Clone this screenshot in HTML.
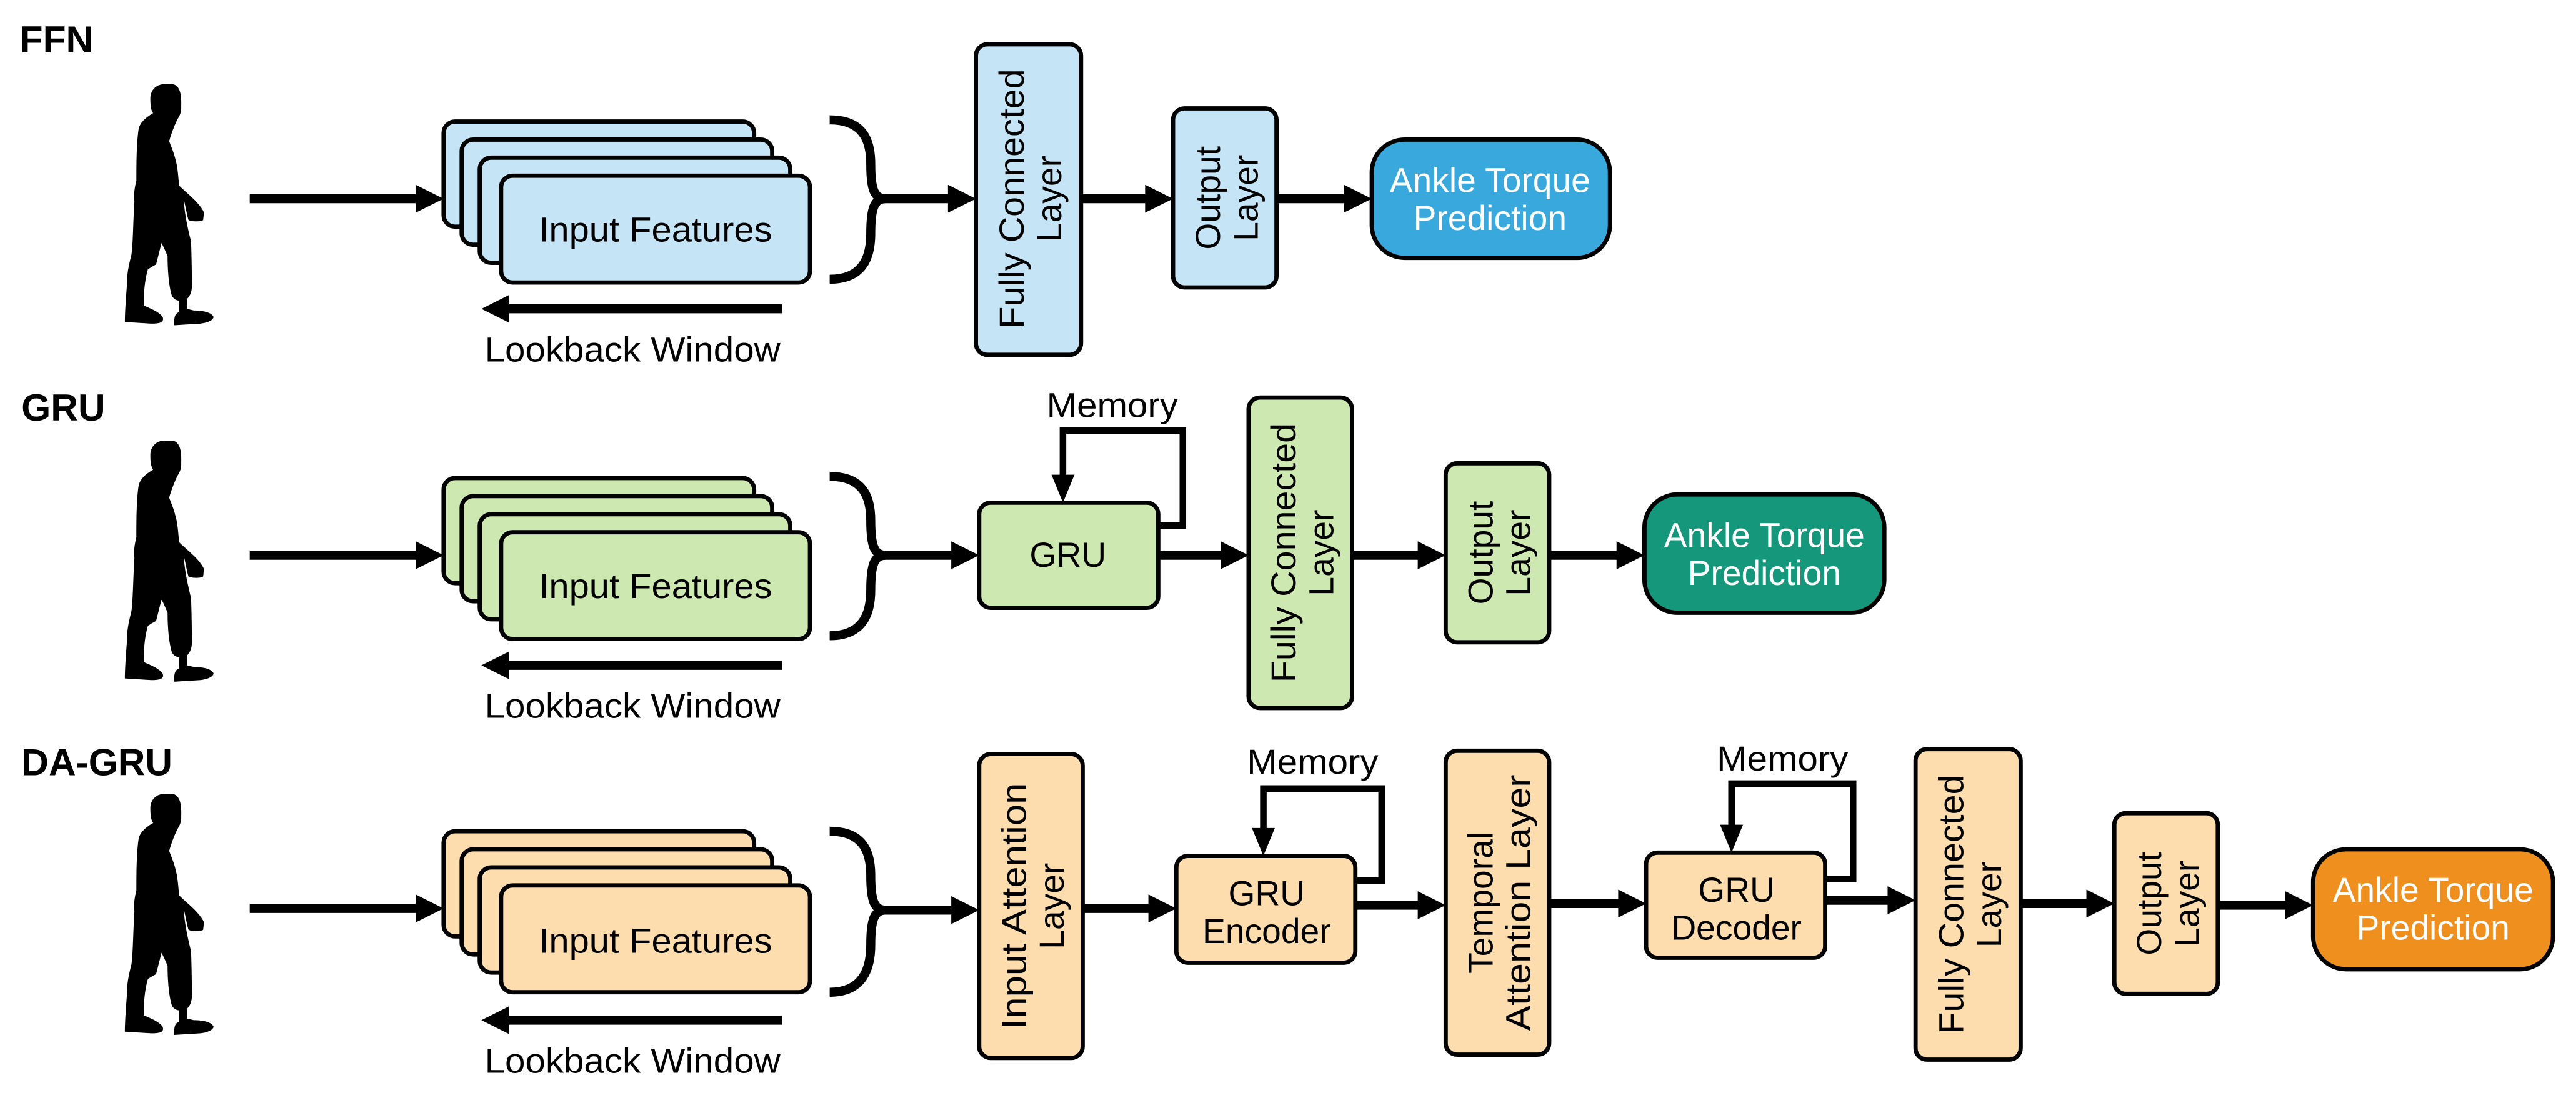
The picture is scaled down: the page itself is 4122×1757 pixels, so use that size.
<!DOCTYPE html>
<html><head><meta charset="utf-8"><style>
html,body{margin:0;padding:0;background:#fff;}
svg{display:block;}
text{font-family:"Liberation Sans",Arial,sans-serif;}
</style></head><body>
<svg width="4122" height="1757" viewBox="0 0 1568 668.4" xmlns="http://www.w3.org/2000/svg">
<defs>
<path id="person" d="M100.8,268.2 C95,268 91.5,272 91.5,277 C91.5,282 92,284 93.2,285.9 C88,289 85,292 84.3,296 C83,305 83,318 83,327 C81.5,333 81.5,336 81.8,339.7 C81,352 81,365 80,372 C78,380 77.3,384 77.3,390 C76.5,400 76,408 76,413 L92,414 C98,414 100,413 99,410 C97,407 92,405 87.5,403 C87.5,395 88,388 90,381 C93,379 95,378 95,378 L98.3,365 C100,368 102,373 102,373 C102,383 103,392 104.6,397 C106,400 109,400 109,400 L109,407 C106,408 106,411 106,415 L122,414 C130,413 130,410 130,410 C129,407 123,406 118,406 L113.8,405 L113.8,399 C116,397 116.8,394 116.8,391 C116.8,380 116.5,370 116.3,364 C114,355 112,345 112,339 C113,343 114,349 114.8,351 C117,352 122,352 123.6,351 C124,349 124,347 124,346 C121,340 114,335 109,330 C108.5,324 108,318 107,315 C106,310 104,306 103,303 C104,299 107,291 109,288 C110.5,285 110.3,283 110.3,281.5 C110.5,276 110,270 106,268.5 C104,268.1 102,268.2 100.8,268.2 Z"/>
</defs>

<!-- Row labels -->
<text x="12" y="32" font-size="23" font-weight="bold">FFN</text>
<text x="13" y="256" font-size="23" font-weight="bold">GRU</text>
<text x="13" y="472" font-size="23" font-weight="bold">DA-GRU</text>

<!-- Persons -->
<use href="#person" transform="translate(0,-217)"/>
<use href="#person"/>
<use href="#person" transform="translate(0,215)"/>

<g id="rows" stroke="#000">
<!-- ROW 1 -->
<g fill="#C5E5F6" stroke-width="2.6">
<rect x="270" y="74" width="189" height="64" rx="7"/>
<rect x="281" y="85" width="189" height="64" rx="7"/>
<rect x="292" y="96" width="189" height="64" rx="7"/>
<rect x="305" y="107" width="188" height="65" rx="7"/>
<rect x="594" y="27" width="64" height="189" rx="7"/>
<rect x="714" y="66" width="63" height="109" rx="7"/>
</g>
<rect x="835" y="85" width="145" height="72" rx="20" fill="#38A8DD" stroke-width="2.6"/>

<!-- ROW 2 -->
<g fill="#CDE8B0" stroke-width="2.6">
<rect x="270" y="291" width="189" height="64" rx="7"/>
<rect x="281" y="302" width="189" height="64" rx="7"/>
<rect x="292" y="313" width="189" height="64" rx="7"/>
<rect x="305" y="324" width="188" height="65" rx="7"/>
<rect x="596" y="306" width="109" height="64" rx="7"/>
<rect x="760" y="242" width="63" height="189" rx="7"/>
<rect x="880" y="282" width="63" height="109" rx="7"/>
</g>
<rect x="1001" y="301" width="146" height="72" rx="20" fill="#14977A" stroke-width="2.6"/>

<!-- ROW 3 -->
<g fill="#FDDDAD" stroke-width="2.6">
<rect x="270" y="506" width="189" height="64" rx="7"/>
<rect x="281" y="517" width="189" height="64" rx="7"/>
<rect x="292" y="528" width="189" height="64" rx="7"/>
<rect x="305" y="539" width="188" height="65" rx="7"/>
<rect x="596" y="459" width="63" height="185" rx="7"/>
<rect x="716" y="521" width="109" height="65" rx="7"/>
<rect x="880" y="457" width="63" height="185" rx="7"/>
<rect x="1002" y="519" width="109" height="64" rx="7"/>
<rect x="1166" y="456" width="64" height="189" rx="7"/>
<rect x="1287" y="495" width="63" height="110" rx="7"/>
</g>
<rect x="1408" y="517" width="146" height="73" rx="20" fill="#EF8F1E" stroke-width="2.6"/>

<!-- braces -->
<g fill="none" stroke-width="5.5">
<path d="M505,73 C525,73 530,85 530,100 C530,115 532,121 539,121 C532,121 530,127 530,142 C530,157 525,170 505,170"/>
<path d="M505,290 C525,290 530,302 530,317 C530,332 532,338 539,338 C532,338 530,344 530,359 C530,374 525,387 505,387"/>
<path d="M505,506 C525,506 530,518 530,533 C530,548 532,554 539,554 C532,554 530,560 530,575 C530,590 525,604 505,604"/>
</g>

<!-- shafts -->
<g stroke-width="5.5" fill="none">
<line x1="152" y1="121" x2="256" y2="121"/>
<line x1="538" y1="121" x2="578" y2="121"/>
<line x1="657" y1="121" x2="698" y2="121"/>
<line x1="777" y1="121" x2="819" y2="121"/>
<line x1="308" y1="188" x2="476" y2="188"/>

<line x1="152" y1="338" x2="256" y2="338"/>
<line x1="538" y1="338" x2="580" y2="338"/>
<line x1="705" y1="338" x2="744" y2="338"/>
<line x1="823" y1="338" x2="864" y2="338"/>
<line x1="943" y1="338" x2="985" y2="338"/>
<line x1="308" y1="405" x2="476" y2="405"/>

<line x1="152" y1="553" x2="256" y2="553"/>
<line x1="538" y1="554" x2="580" y2="554"/>
<line x1="659" y1="553" x2="700" y2="553"/>
<line x1="825" y1="551" x2="864" y2="551"/>
<line x1="943" y1="550" x2="986" y2="550"/>
<line x1="1111" y1="548" x2="1150" y2="548"/>
<line x1="1230" y1="550" x2="1271" y2="550"/>
<line x1="1350" y1="551" x2="1392" y2="551"/>
<line x1="308" y1="621" x2="476" y2="621"/>
</g>
<!-- memory loops -->
<g stroke-width="4" fill="none">
<polyline points="705,320 720,320 720,262 647,262 647,292"/>
<polyline points="825,536 841,536 841,480 769,480 769,507"/>
<polyline points="1111,535 1128,535 1128,477 1054,477 1054,505"/>
</g>
</g>

<!-- arrowheads -->
<g fill="#000">
<polygon points="270,121 253,112.5 253,129.5"/>
<polygon points="594,121 577,112.5 577,129.5"/>
<polygon points="714,121 697,112.5 697,129.5"/>
<polygon points="835,121 818,112.5 818,129.5"/>
<polygon points="293,188 310,179.5 310,196.5"/>

<polygon points="270,338 253,329.5 253,346.5"/>
<polygon points="596,338 579,329.5 579,346.5"/>
<polygon points="760,338 743,329.5 743,346.5"/>
<polygon points="880,338 863,329.5 863,346.5"/>
<polygon points="1001,338 984,329.5 984,346.5"/>
<polygon points="293,405 310,396.5 310,413.5"/>
<polygon points="647,306 640,289 654,289"/>

<polygon points="270,553 253,544.5 253,561.5"/>
<polygon points="596,554 579,545.5 579,562.5"/>
<polygon points="716,553 699,544.5 699,561.5"/>
<polygon points="880,551 863,542.5 863,559.5"/>
<polygon points="1002,550 985,541.5 985,558.5"/>
<polygon points="1166,548 1149,539.5 1149,556.5"/>
<polygon points="1287,550 1270,541.5 1270,558.5"/>
<polygon points="1408,551 1391,542.5 1391,559.5"/>
<polygon points="293,621 310,612.5 310,629.5"/>
<polygon points="769,521 762,504 776,504"/>
<polygon points="1054,519 1047,502 1061,502"/>
</g>

<!-- texts -->
<g font-size="21" text-anchor="middle">
<text x="399" y="147" textLength="142" lengthAdjust="spacingAndGlyphs">Input Features</text>
<text x="385" y="220" textLength="180" lengthAdjust="spacingAndGlyphs">Lookback Window</text>
<text x="399" y="364" textLength="142" lengthAdjust="spacingAndGlyphs">Input Features</text>
<text x="385" y="437" textLength="180" lengthAdjust="spacingAndGlyphs">Lookback Window</text>
<text x="399" y="580" textLength="142" lengthAdjust="spacingAndGlyphs">Input Features</text>
<text x="385" y="653" textLength="180" lengthAdjust="spacingAndGlyphs">Lookback Window</text>

<text x="677" y="254" textLength="80" lengthAdjust="spacingAndGlyphs">Memory</text>
<text x="799" y="471" textLength="80" lengthAdjust="spacingAndGlyphs">Memory</text>
<text x="1085" y="469" textLength="80" lengthAdjust="spacingAndGlyphs">Memory</text>

<text x="650" y="345">GRU</text>
<text x="771" y="551">GRU</text>
<text x="771" y="574">Encoder</text>
<text x="1057" y="549">GRU</text>
<text x="1057" y="572">Decoder</text>

<g fill="#fff">
<text x="907" y="117">Ankle Torque</text>
<text x="907" y="140">Prediction</text>
<text x="1074" y="333">Ankle Torque</text>
<text x="1074" y="356">Prediction</text>
<text x="1481" y="549">Ankle Torque</text>
<text x="1481" y="572">Prediction</text>
</g>

<!-- rotated labels -->
<g transform="translate(626,121) rotate(-90)">
<text x="0" y="-3" textLength="158" lengthAdjust="spacingAndGlyphs">Fully Connected</text>
<text x="0" y="20">Layer</text></g>
<g transform="translate(745.5,120.5) rotate(-90)">
<text x="0" y="-3">Output</text>
<text x="0" y="20">Layer</text></g>

<g transform="translate(791.5,336.5) rotate(-90)">
<text x="0" y="-3" textLength="158" lengthAdjust="spacingAndGlyphs">Fully Connected</text>
<text x="0" y="20">Layer</text></g>
<g transform="translate(911.5,336.5) rotate(-90)">
<text x="0" y="-3">Output</text>
<text x="0" y="20">Layer</text></g>

<g transform="translate(627.5,551.5) rotate(-90)">
<text x="0" y="-3" textLength="150" lengthAdjust="spacingAndGlyphs">Input Attention</text>
<text x="0" y="20">Layer</text></g>
<g transform="translate(911.5,549.5) rotate(-90)">
<text x="0" y="-3">Temporal</text>
<text x="0" y="20" textLength="156" lengthAdjust="spacingAndGlyphs">Attention Layer</text></g>
<g transform="translate(1198,550.5) rotate(-90)">
<text x="0" y="-3" textLength="158" lengthAdjust="spacingAndGlyphs">Fully Connected</text>
<text x="0" y="20">Layer</text></g>
<g transform="translate(1318.5,550) rotate(-90)">
<text x="0" y="-3">Output</text>
<text x="0" y="20">Layer</text></g>
</g>
</svg>
</body></html>
